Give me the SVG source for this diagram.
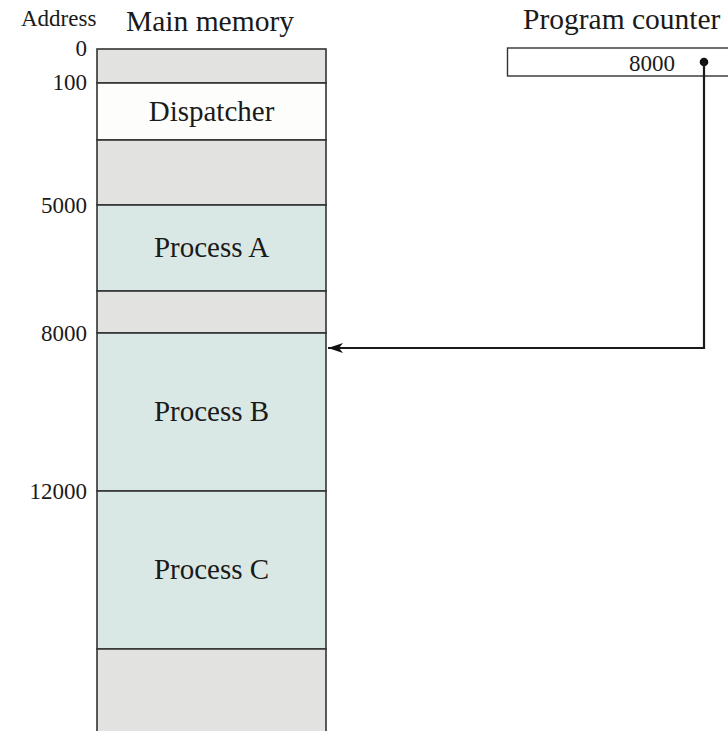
<svg xmlns="http://www.w3.org/2000/svg" width="728" height="731" viewBox="0 0 728 731">
<defs>
<style>
.t{font-family:"Liberation Serif","Times New Roman",serif;fill:#1a1a1a}
.h{font-size:29.5px}
.a{font-size:23px;text-anchor:end}
.p{font-size:29px;text-anchor:middle}
.seg{stroke:#333;stroke-width:1.6}
.g{fill:#e2e2e1}
.c{fill:#dae8e5}
.w{fill:#fdfdfb}
</style>
<marker id="ah" markerWidth="16" markerHeight="10" refX="15" refY="5" orient="auto" markerUnits="userSpaceOnUse">
<path d="M0,0 L15,5 L0,10 L4,5 Z" fill="#111"/>
</marker>
</defs>
<rect width="728" height="731" fill="#fff"/>
<text class="t" x="21" y="26" style="font-size:23px">Address</text>
<text class="t h" x="126" y="31">Main memory</text>
<text class="t h" x="523" y="29">Program counter</text>

<g id="memory">
<rect class="seg g" x="97" y="49" width="229" height="34"/>
<rect class="seg w" x="97" y="83" width="229" height="57"/>
<rect class="seg g" x="97" y="140" width="229" height="65"/>
<rect class="seg c" x="97" y="205" width="229" height="86"/>
<rect class="seg g" x="97" y="291" width="229" height="42"/>
<rect class="seg c" x="97" y="333" width="229" height="158"/>
<rect class="seg c" x="97" y="491" width="229" height="158"/>
<path class="seg g" d="M97,731 V649 H326 V731"/>
</g>
<g id="dispatcher"><text class="t p" x="211.5" y="121">Dispatcher</text></g>
<g id="processA"><text class="t p" x="211.5" y="257">Process A</text></g>
<g id="processB"><text class="t p" x="211.5" y="421">Process B</text></g>
<g id="processC"><text class="t p" x="211.5" y="579">Process C</text></g>

<g id="addresses">
<text class="t a" x="87" y="56">0</text>
<text class="t a" x="87" y="90">100</text>
<text class="t a" x="87" y="213">5000</text>
<text class="t a" x="87" y="341">8000</text>
<text class="t a" x="87" y="499">12000</text>
</g>

<g id="pc">
<rect x="507.5" y="48" width="230" height="28" fill="#fff" stroke="#333" stroke-width="1.4"/>
<text class="t" x="675" y="71" style="font-size:23px;text-anchor:end">8000</text>
</g>

<g id="connectors">
<circle cx="704" cy="62" r="4.3" fill="#111"/>
<path d="M704,62 V348 H328" fill="none" stroke="#1a1a1a" stroke-width="2.2" marker-end="url(#ah)"/>
</g>
</svg>
